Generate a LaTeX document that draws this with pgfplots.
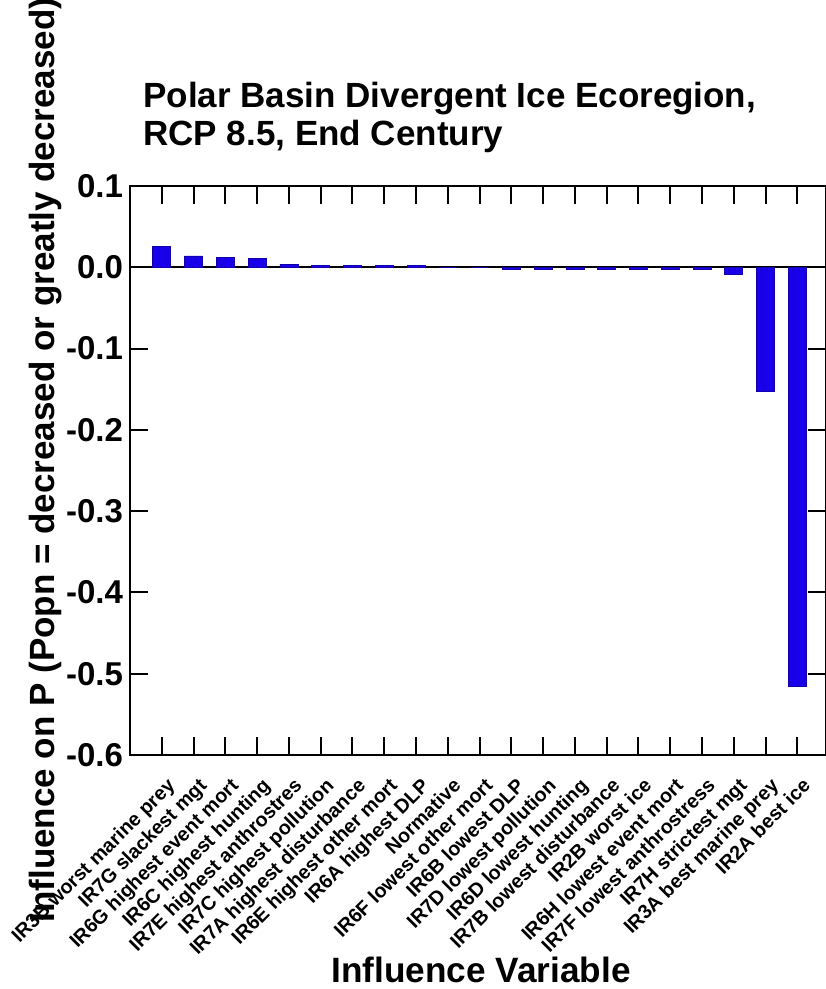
\documentclass[border=0pt]{standalone}
\usepackage{fontspec}
\setmainfont{Liberation Sans}
\usepackage{pgfplots}
\pgfplotsset{compat=1.18}
\definecolor{barblue}{RGB}{25,0,232}
\definecolor{baredge}{RGB}{15,0,170}
\begin{document}
\begin{tikzpicture}
\begin{axis}[
  width=348pt, height=284.5pt, scale only axis,
  xmin=-1, xmax=20.9, ymin=-0.6, ymax=0.1,
  xtick={0,1,2,3,4,5,6,7,8,9,10,11,12,13,14,15,16,17,18,19,20},
  xticklabels={IR3B worst marine prey, IR7G slackest mgt, IR6G highest event mort, IR6C highest hunting, IR7E highest anthrostres, IR7C highest pollution, IR7A highest disturbance, IR6E highest other mort, IR6A highest DLP, Normative, IR6F lowest other mort, IR6B lowest DLP, IR7D lowest pollution, IR6D lowest hunting, IR7B lowest disturbance, IR2B worst ice, IR6H lowest event mort, IR7F lowest anthrostress, IR7H strictest mgt, IR3A best marine prey, IR2A best ice},
  ytick={-0.6,-0.5,-0.4,-0.3,-0.2,-0.1,0,0.1},
  yticklabels={-0.6,-0.5,-0.4,-0.3,-0.2,-0.1,0.0,0.1},
  tick align=inside,
  major tick length=9pt,
  every tick/.style={black, line width=1pt},
  axis line style={line width=1pt},
  yticklabel style={font=\fontsize{16.5}{19}\selectfont\bfseries},
  xticklabel style={xshift=2pt, yshift=-6pt, rotate=45, anchor=north east, font=\fontsize{9.9}{12}\selectfont\bfseries},
]
\coordinate (sw) at (rel axis cs:0,0);
\draw[black, line width=0.8pt] (axis cs:-1,0) -- (axis cs:20.9,0);
\addplot[ybar, bar width=9pt, fill=barblue, draw=baredge, line width=0.4pt] coordinates {
(0,0.026) (1,0.014) (2,0.012) (3,0.011) (4,0.004) (5,0.002) (6,0.002) (7,0.002) (8,0.002) (9,0) (10,0)
(11,-0.002) (12,-0.002) (13,-0.002) (14,-0.002) (15,-0.003) (16,-0.003) (17,-0.003) (18,-0.009) (19,-0.153) (20,-0.516)
};
\end{axis}
\node[anchor=base west, inner sep=0, font=\fontsize{17.5}{21}\selectfont\bfseries] at ([shift={(6.5pt,323.5pt)}]sw) {Polar Basin Divergent Ice Ecoregion,};
\node[anchor=base west, inner sep=0, font=\fontsize{17.5}{21}\selectfont\bfseries] at ([shift={(6.5pt,304.5pt)}]sw) {RCP 8.5, End Century};
\node[anchor=base, inner sep=0, font=\fontsize{17.6}{21}\selectfont\bfseries] at ([shift={(175.5pt,-113.5pt)}]sw) {Influence Variable};
\node[rotate=90, anchor=base, inner sep=0, font=\fontsize{17.5}{21}\selectfont\bfseries] at ([shift={(-37.5pt,147.5pt)}]sw) {Influence on P (Popn = decreased or greatly decreased)};
\pgfresetboundingbox
\useasboundingbox ([shift={(-65pt,-117pt)}]sw) rectangle ++(412.5pt,494.5pt);
\end{tikzpicture}
\end{document}
